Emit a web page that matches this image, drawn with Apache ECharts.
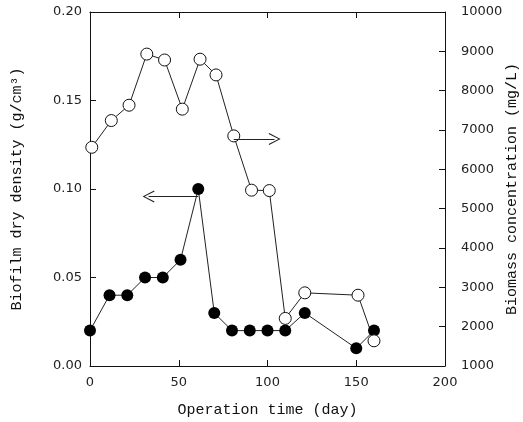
<!DOCTYPE html>
<html>
<head>
<meta charset="utf-8">
<script src="https://cdn.jsdelivr.net/npm/echarts@6/dist/echarts.min.js"></script>
<style>
  html, body { margin: 0; padding: 0; background: #fff; }
  #main { width: 523px; height: 422px; }
</style>
</head>
<body>
<div id="main"></div>
<script>
// biofilm dry density, filled circles (left axis)
var densityDays = [0, 11, 21, 31, 41, 51, 61, 70, 80, 90, 100, 110, 121, 150, 160];
var densityValues = [0.02, 0.04, 0.04, 0.05, 0.05, 0.06, 0.10, 0.03, 0.02, 0.02, 0.02, 0.02, 0.03, 0.01, 0.02];

// biomass concentration, open circles (right axis)
var biomassDays = [1, 12, 22, 32, 42, 52, 62, 71, 81, 91, 101, 110, 121, 151, 160];
var biomassValues = [6560, 7240, 7630, 8930, 8780, 7530, 8800, 8400, 6850, 5470, 5460, 2210, 2860, 2800, 1640];

var xTicks = [0, 50, 100, 150, 200];
var leftTicks = [0.00, 0.05, 0.10, 0.15, 0.20];
var rightTicks = [1000, 2000, 3000, 4000, 5000, 6000, 7000, 8000, 9000, 10000];

// arrows pointing to the axis of each series
var leftArrow = [[61, 0.0957], [33, 0.0957]];
var rightArrow = [[81, 6770], [104, 6770]];

function pairs(xs, ys) {
    var list = [];
    for (var i = 0; i < xs.length; i++) {
        list.push([xs[i], ys[i]]);
    }
    return list;
}

var chevron = 'path://M0,0 L-6,12 L-5,12.6 L0,2.2 L5,12.6 L6,12 Z';
var tickFont = { fontFamily: 'DejaVu Sans', fontSize: 13, color: '#222' };
var titleFont = { fontFamily: 'Liberation Mono', fontSize: 15, color: '#111', verticalAlign: 'middle' };
var frameLine = { show: true, onZero: false, lineStyle: { color: '#111', width: 1 } };
var innerTick = { inside: true, length: 6, lineStyle: { color: '#111' } };

var myChart = echarts.init(document.getElementById('main'));
var option = {
    animation: false,
    backgroundColor: '#fff',
    grid: { left: 90, right: 78, top: 12, bottom: 56, outerBoundsMode: 'none', containLabel: false },
    xAxis: [
        {
            type: 'value',
            min: xTicks[0],
            max: xTicks[xTicks.length - 1],
            interval: 50,
            name: 'Operation time (day)',
            nameLocation: 'middle',
            nameGap: 44,
            nameMoveOverlap: false,
            nameTextStyle: titleFont,
            axisLine: frameLine,
            axisTick: innerTick,
            axisLabel: Object.assign({ margin: 10 }, tickFont),
            splitLine: { show: false }
        },
        {
            type: 'value',
            position: 'top',
            min: xTicks[0],
            max: xTicks[xTicks.length - 1],
            interval: 50,
            axisLine: frameLine,
            axisTick: innerTick,
            axisLabel: { show: false },
            splitLine: { show: false }
        }
    ],
    yAxis: [
        {
            type: 'value',
            min: leftTicks[0],
            max: leftTicks[leftTicks.length - 1],
            interval: 0.05,
            name: 'Biofilm dry density (g/cm³)',
            nameLocation: 'middle',
            nameGap: 73,
            nameMoveOverlap: false,
            nameTextStyle: titleFont,
            axisLine: frameLine,
            axisTick: innerTick,
            axisLabel: Object.assign({
                margin: 8,
                formatter: function (v) { return v.toFixed(2); }
            }, tickFont),
            splitLine: { show: false }
        },
        {
            type: 'value',
            position: 'right',
            min: rightTicks[0],
            max: rightTicks[rightTicks.length - 1],
            interval: 1000,
            name: 'Biomass concentration (mg/L)',
            nameLocation: 'middle',
            nameGap: 67,
            nameRotate: 90,
            nameMoveOverlap: false,
            nameTextStyle: titleFont,
            axisLine: frameLine,
            axisTick: innerTick,
            axisLabel: Object.assign({
                margin: 16,
                formatter: function (v) { return String(v); }
            }, tickFont),
            splitLine: { show: false }
        }
    ],
    series: [
        {
            name: 'density',
            type: 'line',
            xAxisIndex: 0,
            yAxisIndex: 0,
            symbol: 'circle',
            symbolSize: 12,
            itemStyle: { color: '#000' },
            lineStyle: { color: '#222', width: 1 },
            data: pairs(densityDays, densityValues),
            markLine: {
                silent: true,
                symbol: ['none', chevron],
                symbolSize: [12, 12],
                label: { show: false },
                lineStyle: { color: '#222', width: 1, type: 'solid' },
                data: [[{ coord: leftArrow[0] }, { coord: leftArrow[1] }]]
            }
        },
        {
            name: 'biomass',
            type: 'line',
            xAxisIndex: 0,
            yAxisIndex: 1,
            symbol: 'circle',
            symbolSize: 12,
            itemStyle: { color: '#fff', borderColor: '#111', borderWidth: 1 },
            lineStyle: { color: '#222', width: 1 },
            data: pairs(biomassDays, biomassValues),
            markLine: {
                silent: true,
                symbol: ['none', chevron],
                symbolSize: [12, 12],
                label: { show: false },
                lineStyle: { color: '#222', width: 1, type: 'solid' },
                data: [[{ coord: rightArrow[0] }, { coord: rightArrow[1] }]]
            }
        }
    ]
};
myChart.setOption(option, true);
</script>
</body>
</html>
